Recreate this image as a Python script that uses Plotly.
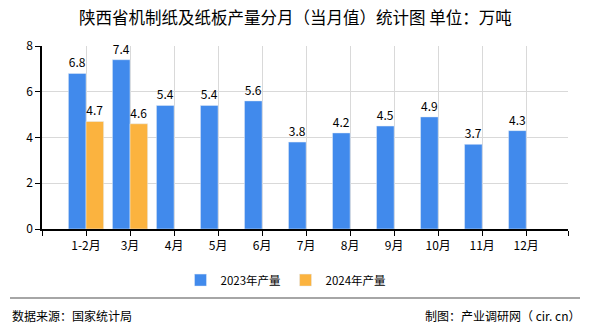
import plotly.graph_objects as go

categories = ["1-2月", "3月", "4月", "5月", "6月", "7月", "8月", "9月", "10月", "11月", "12月"]
values_2023 = [6.8, 7.4, 5.4, 5.4, 5.6, 3.8, 4.2, 4.5, 4.9, 3.7, 4.3]
values_2024 = [4.7, 4.6]
series_names = ["2023年产量", "2024年产量"]
y_ticks = [0, 2, 4, 6, 8]

FONT = "Noto Sans CJK SC"
BLUE = "#418AEC"
ORANGE = "#FBB33F"

x_pos = list(range(len(categories)))

fig = go.Figure()
fig.add_trace(go.Bar(
    x=x_pos, y=values_2023, name=series_names[0], marker_color=BLUE,
    text=[f"{v:.1f}" for v in values_2023], textposition="outside",
    textfont=dict(family=FONT, size=12, color="#000"), cliponaxis=False,
))
fig.add_trace(go.Bar(
    x=x_pos[:len(values_2024)], y=values_2024, name=series_names[1], marker_color=ORANGE,
    text=[f"{v:.1f}" for v in values_2024], textposition="outside",
    textfont=dict(family=FONT, size=12, color="#000"), cliponaxis=False,
))

fig.update_layout(
    width=590, height=330,
    margin=dict(l=42, r=22, t=46, b=101),
    paper_bgcolor="white", plot_bgcolor="white",
    barmode="group", bargap=0.2, bargroupgap=0,
    font=dict(family=FONT, size=12, color="#000"),
    showlegend=True,
    legend=dict(orientation="h", x=(286 - 42) / 526, xanchor="center", y=-0.2, yanchor="top",
                font=dict(family=FONT, size=11.5, color="#000"), itemwidth=30,
                traceorder="normal"),
    xaxis=dict(
        range=[-1, 10.95], tickmode="array",
        tickvals=[-1] + x_pos + [10.95], ticktext=[""] + categories + [""],
        showgrid=True, gridcolor="#d9d9d9", gridwidth=1,
        showline=True, linecolor="#000", linewidth=1.5,
        ticks="outside", ticklen=5, tickcolor="#000",
        tickfont=dict(family=FONT, size=12, color="#000"), zeroline=False,
    ),
    yaxis=dict(
        range=[0, 8], tickvals=y_ticks,
        showgrid=True, gridcolor="#d9d9d9", gridwidth=1,
        showline=True, linecolor="#000", linewidth=1.5,
        ticks="outside", ticklen=5, tickcolor="#000",
        tickfont=dict(family=FONT, size=12, color="#000"), zeroline=False,
    ),
    annotations=[
        dict(text="陕西省机制纸及纸板产量分月（当月值）统计图 单位：万吨", xref="paper", yref="paper",
             x=(295 - 42) / 526, y=1 + (46 - 17) / 183, xanchor="center", yanchor="middle",
             showarrow=False, font=dict(family=FONT, size=16.5, color="#000")),
        dict(text="数据来源：国家统计局", xref="paper", yref="paper",
             x=(10 - 42) / 526, y=-(315 - 229) / 183, xanchor="left", yanchor="middle",
             showarrow=False, font=dict(family=FONT, size=12, color="#000")),
        dict(text="制图：产业调研网（ cir. cn）", xref="paper", yref="paper",
             x=(582 - 42) / 526, y=-(315 - 229) / 183, xanchor="right", yanchor="middle",
             showarrow=False, font=dict(family=FONT, size=12, color="#000")),
    ],
    shapes=[
        dict(type="line", xref="paper", yref="paper",
             x0=(10 - 42) / 526, x1=(580 - 42) / 526,
             y0=-(298 - 229) / 183, y1=-(298 - 229) / 183,
             line=dict(color="#888888", width=1.5)),
    ],
)

fig.write_html("out.html")
